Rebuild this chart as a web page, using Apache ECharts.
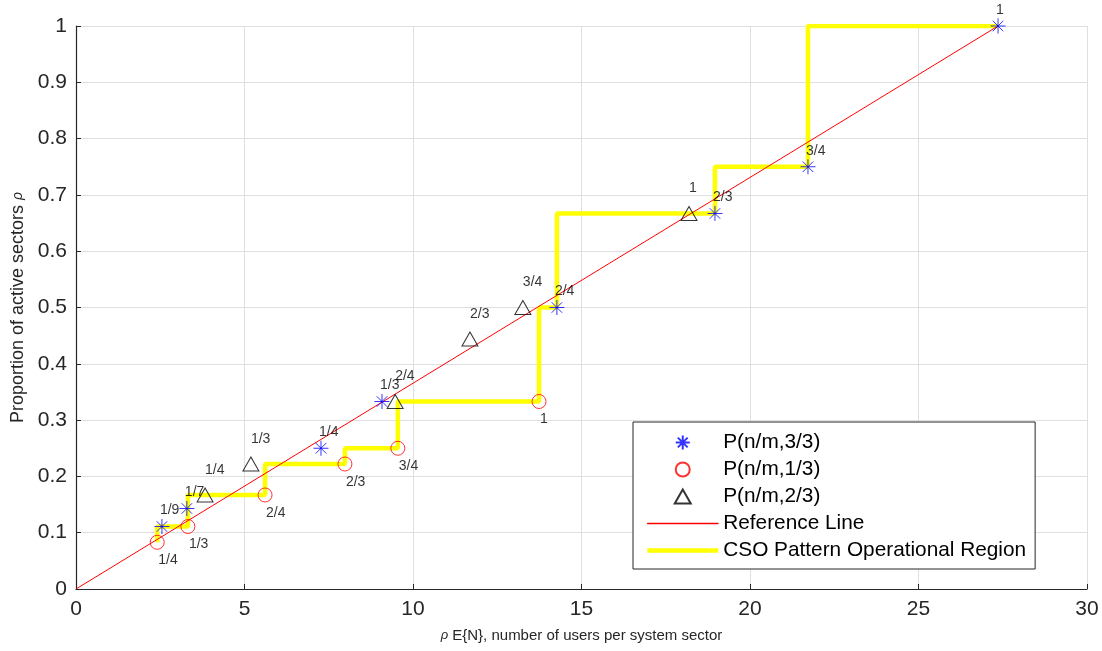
<!DOCTYPE html>
<html><head><meta charset="utf-8">
<script src="https://cdn.jsdelivr.net/npm/echarts@6/dist/echarts.min.js"></script>
<style>html,body{margin:0;padding:0;background:#fff}#c{width:1102px;height:651px}</style>
</head><body><div id="c"></div>
<script>
// ---- data ----
const xTicks = [0, 5, 10, 15, 20, 25, 30];
const yTicks = [0, 0.1, 0.2, 0.3, 0.4, 0.5, 0.6, 0.7, 0.8, 0.9, 1];

const blueX = [2.55, 3.29, 7.27, 9.08, 14.27, 18.96, 21.72, 27.36];
const blueY = [0.111, 0.143, 0.25, 0.333, 0.5, 0.667, 0.75, 1];
const blueLabels = ['1/9', '1/7', '1/4', '1/3', '2/4', '2/3', '3/4', '1'];

const redX = [2.41, 3.32, 5.61, 7.98, 9.55, 13.74];
const redY = [0.083, 0.111, 0.167, 0.222, 0.25, 0.333];
const redLabels = ['1/4', '1/3', '2/4', '2/3', '3/4', '1'];

const triX = [3.83, 5.19, 9.47, 11.69, 13.26, 18.19];
const triY = [0.167, 0.222, 0.333, 0.444, 0.5, 0.667];
const triLabels = ['1/4', '1/3', '2/4', '2/3', '3/4', '1'];

const refX = [0, 27.36];
const refY = [0, 1];

const csoX = [2.41, 2.41, 3.32, 3.32, 5.61, 5.61, 7.98, 7.98, 9.55, 9.55, 13.74, 13.74, 14.27, 14.27, 18.96, 18.96, 21.72, 21.72, 27.36];
const csoY = [0.083, 0.111, 0.111, 0.167, 0.167, 0.222, 0.222, 0.25, 0.25, 0.333, 0.333, 0.5, 0.5, 0.667, 0.667, 0.75, 0.75, 1, 1];

const seriesNames = ['P(n/m,3/3)', 'P(n/m,1/3)', 'P(n/m,2/3)', 'Reference Line', 'CSO Pattern Operational Region'];

// ---- build ----
const FONT = '"Liberation Sans", Arial, Helvetica, sans-serif';
const AX = '#262626';
const asterisk = 'path://M10,0L10,20M0,10L20,10M3,3L17,17M3,17L17,3';
const triIcon = 'path://M0,14L8,0L16,14Z';

function pts(xs, ys, labels) {
  return xs.map((x, i) => labels ? { value: [x, ys[i]], name: labels[i] } : [x, ys[i]]);
}
function lbl(offset) {
  return { show: true, position: 'inside', align: 'left', verticalAlign: 'middle',
    offset: offset, formatter: p => p.name, fontFamily: FONT, fontSize: 14, color: '#000' };
}

const chart = echarts.init(document.getElementById('c'), null, { renderer: 'canvas' });
chart.setOption({
  animation: false,
  backgroundColor: '#fff',
  grid: { left: 76, right: 15, top: 26, bottom: 62, containLabel: false },
  xAxis: {
    type: 'value', min: xTicks[0], max: xTicks[xTicks.length - 1], interval: 5,
    name: '{i|ρ} E{N}, number of users per system sector',
    nameLocation: 'middle', nameGap: 39,
    nameTextStyle: { fontFamily: FONT, fontSize: 15, color: AX, rich: { i: { fontStyle: 'italic', fontSize: 13, fontFamily: FONT, color: AX } } },
    axisLine: { show: true, onZero: false, lineStyle: { color: AX, width: 1.2 } },
    axisTick: { show: true, inside: true, length: 5, lineStyle: { color: AX } },
    axisLabel: { margin: 10, fontFamily: FONT, fontSize: 21, color: AX },
    splitLine: { show: true, lineStyle: { color: '#dfdfdf', width: 1 } }
  },
  yAxis: {
    type: 'value', min: yTicks[0], max: yTicks[yTicks.length - 1], interval: 0.1,
    name: 'Proportion of active sectors {i|ρ}',
    nameLocation: 'middle', nameGap: 49,
    nameTextStyle: { fontFamily: FONT, fontSize: 18, color: AX, rich: { i: { fontStyle: 'italic', fontSize: 14, fontFamily: FONT, color: AX } } },
    axisLine: { show: true, onZero: false, lineStyle: { color: AX, width: 1.2 } },
    axisTick: { show: true, inside: true, length: 5, lineStyle: { color: AX } },
    axisLabel: { margin: 9, fontFamily: FONT, fontSize: 21, color: AX, formatter: v => String(Math.round(v * 10) / 10) },
    splitLine: { show: true, lineStyle: { color: '#dfdfdf', width: 1 } }
  },
  legend: {
    left: 633, top: 422, orient: 'vertical',
    backgroundColor: '#fff', borderColor: AX, borderWidth: 1, borderRadius: 0,
    padding: [10, 9, 8, 14], itemWidth: 71, itemHeight: 14, itemGap: 6,
    textStyle: { fontFamily: FONT, fontSize: 20.8, lineHeight: 20, color: '#000' },
    data: [
      { name: seriesNames[0], icon: asterisk },
      { name: seriesNames[1], icon: 'circle' },
      { name: seriesNames[2], icon: triIcon },
      { name: seriesNames[3], icon: 'path://M0,0L71,0L71,1L0,1Z', itemStyle: { color: '#ff0000', borderColor: '#ff0000', borderWidth: 0.5 } },
      { name: seriesNames[4], icon: 'path://M0,0L71,0L71,4.5L0,4.5Z', itemStyle: { color: '#ffff00', borderColor: '#ffff00', borderWidth: 0 } }
    ],
    z: 20
  },
  series: [
    {
      name: seriesNames[4], type: 'line', data: pts(csoX, csoY), showSymbol: false, symbol: 'none',
      lineStyle: { color: '#ffff00', width: 4.5 }, itemStyle: { color: '#ffff00' }, z: 1
    },
    {
      name: seriesNames[3], type: 'line', data: pts(refX, refY), showSymbol: false, symbol: 'none',
      lineStyle: { color: '#ff0000', width: 1 }, itemStyle: { color: '#ff0000' }, z: 2
    },
    {
      name: seriesNames[1], type: 'scatter', data: pts(redX, redY, redLabels), symbol: 'circle', symbolSize: 14,
      itemStyle: { color: 'rgba(0,0,0,0)', borderColor: '#ff0000', borderWidth: 1 },
      label: lbl([1, 18]), z: 3
    },
    {
      name: seriesNames[2], type: 'scatter', data: pts(triX, triY, triLabels), symbol: 'triangle', symbolSize: [16, 14],
      itemStyle: { color: 'rgba(0,0,0,0)', borderColor: '#000000', borderWidth: 1 },
      label: lbl([0, -25]), z: 3
    },
    {
      name: seriesNames[0], type: 'scatter', data: pts(blueX, blueY, blueLabels), symbol: asterisk, symbolSize: 15,
      itemStyle: { color: 'rgba(0,0,0,0)', borderColor: '#0000ff', borderWidth: 1 },
      label: lbl([-2, -16]), z: 4
    }
  ]
});
</script></body></html>
